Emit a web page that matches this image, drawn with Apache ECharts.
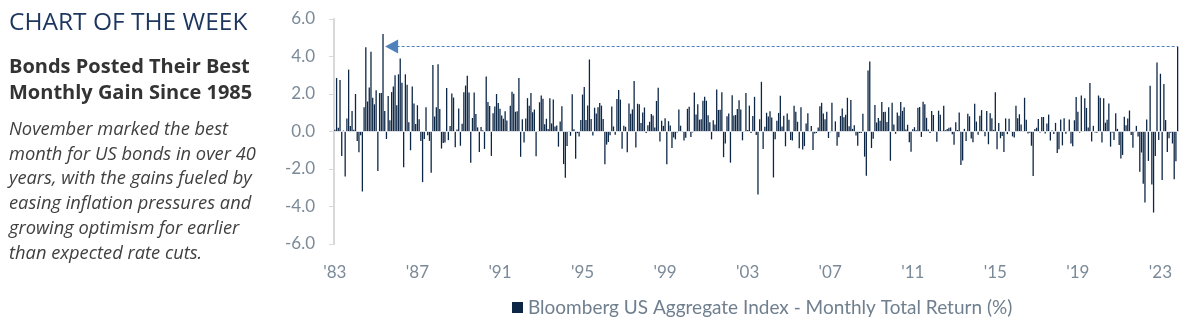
<!DOCTYPE html>
<html><head><meta charset="utf-8">
<script src="https://cdn.jsdelivr.net/npm/echarts@6/dist/echarts.min.js"></script>
<style>html,body{margin:0;padding:0;background:#fff}#c{width:1204px;height:322px}</style>
</head><body><div id="c"></div>
<script>
// Monthly total returns (%), Bloomberg US Aggregate Index, Jan 1983 - Nov 2023
const r1980s = [
  0.1, 2.85, 0.2, 2.75, -1.3, 0.05, -2.4, 0.7, 3.3, 0.3, 1.1, 0.1,      // 1983
  2.0, -0.5, -1.1, -0.2, -3.2, 1.3, 4.5, 1.6, 2.35, 4.25, 1.8, 1.45,    // 1984
  2.2, -2.1, 2.05, 2.05, 5.2, 1.1, -0.4, 1.9, 0.6, 2.1, 2.4, 3.0,       // 1985
  1.4, 3.05, 3.9, 2.6, -1.9, 3.05, 2.5, 0.5, -1.0, 2.4, 1.5, 0.4,       // 1986
  1.4, 0.65, -0.5, -2.7, -0.4, 1.3, -0.2, -0.5, -2.2, 3.55, 0.8, 1.3,   // 1987
  3.59, 1.20, -0.91, -0.61, -0.59, 2.32, -0.46, 0.29, 2.03, 1.81, -0.84, 0.11, // 1988
  1.23, -0.76, 0.42, 2.10, 2.45, 2.97, 2.08, -1.66, 0.72, 2.08, 0.93, 0.22     // 1989
];
const r1990s = [
  -1.09, 0.24, 0.07, -0.93, 2.93, 1.57, 1.36, -1.30, 0.98, 1.34, 2.00, 1.52,
  1.22, 0.86, 0.68, 1.08, 0.59, -0.01, 1.38, 2.12, 2.01, 1.05, 1.08, 2.86,
  -1.35, 0.65, -0.58, 0.70, 1.78, 1.37, 2.05, 1.03, 1.17, -1.32, -0.01, 1.56,
  1.92, 1.75, 0.39, 0.68, 0.14, 1.77, 0.43, 1.71, 0.27, 0.32, -0.81, 0.54,
  1.35, -1.74, -2.46, -0.77, -0.02, -0.23, 1.99, 0.12, -1.45, -0.09, -0.26, 0.62,
  1.97, 2.38, 0.61, 1.39, 3.84, 0.67, -0.21, 1.27, 0.96, 1.30, 1.52, 1.38,
  0.67, -1.74, -0.70, -0.56, -0.20, 1.34, 0.27, -0.17, 1.74, 2.22, 1.70, -0.92,
  0.31, 0.25, -1.11, 1.50, 0.95, 1.18, 2.70, -0.85, 1.48, 1.45, 0.46, 1.01,
  1.28, -0.08, 0.34, 0.52, 0.94, 0.85, 0.21, 1.63, 2.34, -0.53, 0.57, 0.30,
  0.71, -1.75, 0.55, 0.32, -0.88, -0.32, -0.42, -0.05, 1.17, 0.31, -0.01, -0.48
];
const r2000s = [
  -0.33, 1.21, 1.32, -0.29, -0.05, 2.08, 0.91, 1.45, 0.63, 0.66, 1.64, 1.86,
  1.64, 0.87, 0.50, -0.42, 0.60, 0.38, 2.24, 1.15, 1.16, 2.09, -1.37, -0.64,
  0.81, 0.96, -1.66, 1.94, 0.85, 0.88, 1.20, 1.67, 1.18, -0.47, -0.02, 2.06,
  0.08, 1.38, -0.08, 0.83, 1.85, -0.19, -3.36, 0.66, 2.65, -0.93, 0.26, 1.00,
  0.80, 1.08, 0.75, -2.45, -0.41, 0.57, 0.99, 1.91, 0.27, 0.84, -0.79, 0.96,
  0.63, -0.45, -0.48, 1.37, 1.06, 0.52, -0.89, 1.29, -0.96, -0.78, 0.43, 0.98,
  0.01, 0.29, -0.98, -0.11, -0.08, 0.21, 1.35, 1.53, 0.96, 0.65, 1.06, -0.35,
  -0.04, 1.54, 0.00, 0.54, -0.76, -0.30, 0.83, 1.23, 0.76, 0.90, 1.80, 0.28,
  1.68, 0.14, 0.34, -0.21, -0.76, -0.08, -0.08, 0.95, -1.34, -2.36, 3.25, 3.73,
  -0.88, -0.38, 1.41, 0.48, 0.72, 0.58, 1.57, 1.04, 1.05, 0.51, 1.30, -1.56
];
const r2010s = [
  1.53, 0.38, -0.12, 1.02, 0.84, 1.57, 1.10, 1.30, 0.11, 0.36, -0.57, -1.08,
  0.12, 0.23, 0.07, 1.27, 1.31, -0.29, 1.59, 1.46, 0.73, 0.11, -0.08, 1.10,
  0.88, -0.02, -0.55, 1.11, 0.90, 0.04, 1.38, 0.07, 0.14, 0.20, 0.22, -0.14,
  -0.70, 0.50, 0.08, 1.01, -1.78, -1.55, 0.14, -0.51, 0.95, 0.81, -0.37, -0.57,
  1.48, 0.53, -0.17, 0.84, 1.14, 0.05, -0.25, 1.10, -0.68, 0.98, 0.71, 0.09,
  2.10, -0.94, 0.46, -0.36, -0.24, -1.09, 0.70, -0.14, 0.68, 0.02, -0.26, -0.32,
  1.38, 0.71, 0.92, 0.38, 0.03, 1.80, 0.63, -0.11, -0.06, -0.76, -2.37, 0.14,
  0.20, 0.67, -0.05, 0.77, 0.77, -0.10, 0.43, 0.90, -0.48, 0.06, -0.13, 0.46,
  -1.15, -0.95, 0.64, -0.74, 0.71, -0.12, 0.02, 0.64, -0.64, -0.79, 0.60, 1.84,
  1.06, -0.06, 1.92, 0.03, 1.78, 1.26, 0.22, 2.59, -0.53, 0.30, -0.05, -0.07
];
const r2020s = [
  1.92, 1.80, -0.59, 1.78, 0.47, 0.63, 1.49, -0.81, -0.05, -0.45, 0.98, 0.14,
  -0.72, -1.44, -1.25, 0.79, 0.33, 0.70, 1.12, -0.19, -0.87, -0.03, 0.30, -0.26,
  -2.15, -1.12, -2.78, -3.79, 0.64, -1.57, 2.44, -2.83, -4.32, -1.30, 3.68, -0.45,
  3.08, -2.59, 2.54, 0.61, -1.09, -0.36, -0.07, -0.64, -2.54, -1.58, 4.53
];
const tickLabels = ["'83","'87","'91","'95","'99","'03","'07","'11","'15","'19","'23"];
const startYear = 1983;
const titleText = 'CHART OF THE WEEK';
const headlineLines = ['Bonds Posted Their Best', 'Monthly Gain Since 1985'];
const bodyLines = ['November marked the best', 'month for US bonds in over 40', 'years, with the gains fueled by', 'easing inflation pressures and', 'growing optimism for earlier', 'than expected rate cuts.'];
const seriesName = 'Bloomberg US Aggregate Index - Monthly Total Return (%)';

const returns = [].concat(r1980s, r1990s, r2000s, r2010s, r2020s);
const months = returns.map((_, i) => (startYear + Math.floor(i / 12)) + '-' + String(i % 12 + 1).padStart(2, '0'));
const lastIdx = returns.length - 1;
const lastVal = returns[lastIdx];
let prevIdx = 0;
for (let i = 0; i < lastIdx; i++) if (returns[i] > returns[prevIdx]) prevIdx = i;

const chart = echarts.init(document.getElementById('c'), null, {renderer: 'canvas'});
chart.setOption({
  animation: false,
  title: [
    {text: titleText, left: 9, top: 11, padding: 0, textStyle: {fontFamily: 'Open Sans', fontWeight: 400, fontSize: 24.5, color: '#1c365f'}},
    {text: headlineLines.join('\n'), left: 9, top: 54, padding: 0, textStyle: {fontFamily: 'Open Sans', fontWeight: 700, fontSize: 20, lineHeight: 26, color: '#333333'}},
    {text: bodyLines.join('\n'), left: 9, top: 117.5, padding: 0, textStyle: {fontFamily: 'Open Sans', fontStyle: 'italic', fontWeight: 400, fontSize: 18.3, lineHeight: 24.7, color: '#404040'}}
  ],
  legend: {
    data: [seriesName], left: 507, top: 293, icon: 'rect', itemWidth: 11, itemHeight: 11, itemGap: 5,
    textStyle: {fontFamily: 'Lato', fontSize: 19, color: '#6f7f8e'}
  },
  grid: {left: 334, top: 19, width: 844.5, height: 225, containLabel: false},
  xAxis: {
    type: 'category', data: months,
    axisLine: {show: false}, axisTick: {show: false}, splitLine: {show: false},
    axisLabel: {
      interval: (i) => i % 48 === 0,
      formatter: (v, i) => tickLabels[Math.round(i / 48)] || '',
      fontFamily: 'Lato', fontSize: 17, color: '#7b8a98', margin: 20
    }
  },
  yAxis: {
    type: 'value', min: -6, max: 6, interval: 2,
    axisLine: {show: true, lineStyle: {color: '#d9d9d9', width: 2}},
    axisTick: {show: true, length: 5, lineStyle: {color: '#d9d9d9', width: 1}},
    splitLine: {show: false},
    axisLabel: {formatter: (v) => v.toFixed(1), fontFamily: 'Lato', fontSize: 17, color: '#7b8a98', margin: 19}
  },
  series: [{
    name: seriesName, type: 'bar', data: returns, barCategoryGap: '25%',
    itemStyle: {color: '#0c2646'},
    markLine: {
      silent: true, animation: false,
      symbol: 'none',
      label: {show: false},
      data: [
        {yAxis: 0, lineStyle: {color: '#dde1e6', type: 'solid', width: 1}},
        [
          {coord: [prevIdx + 5, lastVal], symbol: 'triangle', symbolSize: [14, 13]},
          {coord: [lastIdx, lastVal], symbol: 'none'}
        ]
      ],
      lineStyle: {color: '#4f81bd', type: [3, 2], width: 1}
    }
  }]
});
</script></body></html>
